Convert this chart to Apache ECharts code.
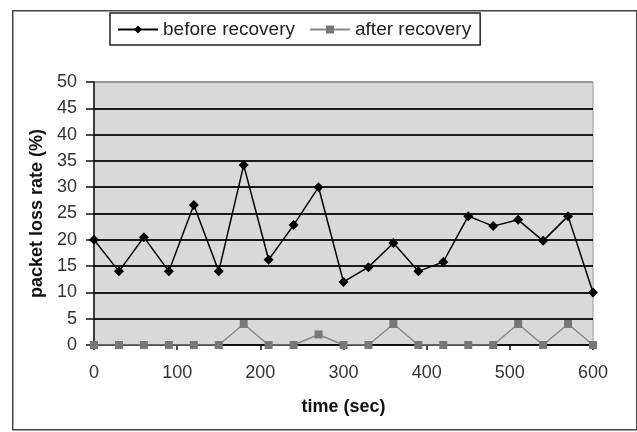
<!DOCTYPE html>
<html>
<head>
<meta charset="utf-8">
<script src="https://cdn.jsdelivr.net/npm/echarts@6/dist/echarts.min.js"></script>
<style>
html,body{margin:0;padding:0;background:#fff;}
#c{width:637px;height:432px;}
</style>
</head>
<body>
<div id="c"></div>
<script>
var times = [0,30,60,90,120,150,180,210,240,270,300,330,360,390,420,450,480,510,540,570,600];
var beforeRecovery = [20,14,20.5,14,26.6,14,34.2,16.2,22.8,30,12,14.8,19.4,14,15.8,24.5,22.6,23.8,19.8,24.5,10];
var afterRecovery = [0,0,0,0,0,0,4,0,0,2,0,0,4,0,0,0,0,4,0,4,0];
var seriesNames = ['before recovery','after recovery'];

var chart = echarts.init(document.getElementById('c'));
function pairs(v){ return times.map(function(t,i){ return [t, v[i]]; }); }
var splitColors = [];
for (var i = 0; i < 10; i++) splitColors.push('#1a1a1a');
splitColors.push('#999');

chart.setOption({
  animation: false,
  textStyle: { fontFamily: 'Liberation Sans, Arial, sans-serif' },
  graphic: [{
    type: 'rect', left: 12, top: 10, z: -10,
    shape: { width: 624, height: 419 },
    style: { fill: '#fff', stroke: '#444', lineWidth: 1.5 }
  }],
  legend: {
    left: 110, top: 13,
    padding: [7, 9, 6, 7],
    itemGap: 14,
    itemWidth: 40, itemHeight: 10,
    borderColor: '#222', borderWidth: 1.5,
    backgroundColor: '#fff',
    textStyle: { fontSize: 19, color: '#222' },
    data: seriesNames
  },
  grid: {
    left: 94, right: 44, top: 82, bottom: 87,
    show: true, backgroundColor: '#d9d9d9', borderColor: '#999', borderWidth: 1
  },
  xAxis: {
    type: 'value', min: 0, max: 600, interval: 100,
    name: 'time (sec)', nameLocation: 'middle', nameGap: 53,
    nameTextStyle: { fontSize: 18, fontWeight: 'bold', color: '#111' },
    axisLine: { onZero: false, lineStyle: { color: '#111', width: 1.5 } },
    axisTick: { show: true, length: 5, lineStyle: { color: '#111', width: 1.5 } },
    axisLabel: { fontSize: 18, color: '#333', margin: 19 },
    splitLine: { show: false }
  },
  yAxis: {
    type: 'value', min: 0, max: 50, interval: 5,
    name: 'packet loss rate (%)', nameLocation: 'middle', nameGap: 47, nameRotate: 90,
    nameTextStyle: { fontSize: 18, fontWeight: 'bold', color: '#111' },
    axisLine: { show: true, lineStyle: { color: '#111', width: 1.5 } },
    axisTick: { show: true, length: 8, lineStyle: { color: '#111', width: 1.5 } },
    axisLabel: { fontSize: 18, color: '#333', margin: 17 },
    splitLine: { show: true, lineStyle: { color: splitColors, width: 1.8 } }
  },
  series: [{
    name: seriesNames[0], type: 'line', data: pairs(beforeRecovery),
    symbol: 'diamond', symbolSize: 10,
    lineStyle: { color: '#000', width: 1.5 },
    itemStyle: { color: '#000' },
    z: 5
  }, {
    name: seriesNames[1], type: 'line', data: pairs(afterRecovery),
    symbol: 'rect', symbolSize: 8,
    lineStyle: { color: '#888', width: 1.5 },
    itemStyle: { color: '#777' },
    z: 4
  }]
});
</script>
</body>
</html>
